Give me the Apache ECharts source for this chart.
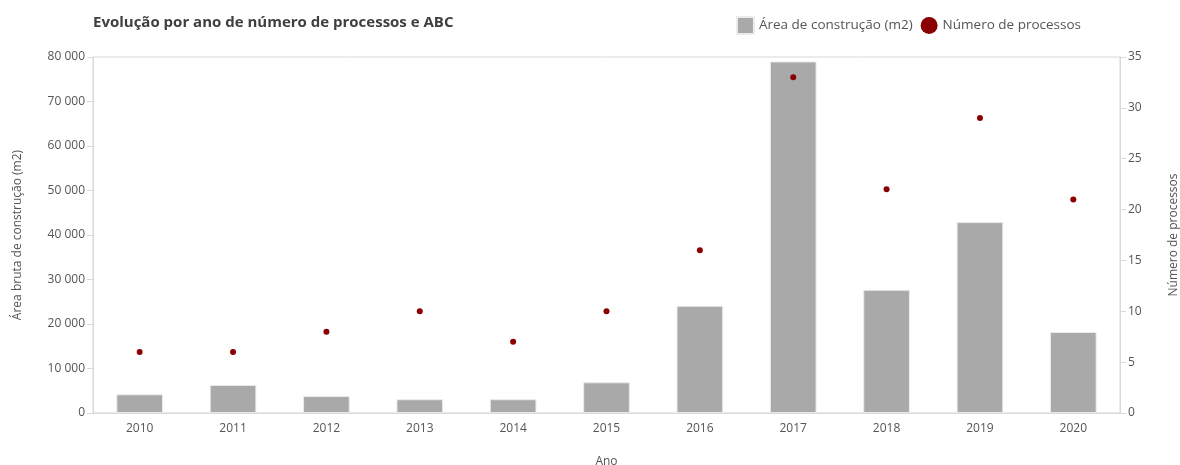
<!DOCTYPE html>
<html><head><meta charset="utf-8">
<script src="https://cdn.jsdelivr.net/npm/echarts@6/dist/echarts.min.js"></script>
<style>html,body{margin:0;padding:0;background:#fff}#c{width:1180px;height:465px}</style>
</head><body><div id="c"></div>
<script>
const years = ['2010','2011','2012','2013','2014','2015','2016','2017','2018','2019','2020'];
const area = [4200, 6300, 3800, 3100, 3100, 6900, 24100, 79000, 27700, 42900, 18200];
const processos = [6, 6, 8, 10, 7, 10, 16, 33, 22, 29, 21];
const titleText = 'Evolução por ano de número de processos e ABC';
const areaName = 'Área de construção (m2)';
const procName = 'Número de processos';

const font = '"Open Sans", "Noto Sans", sans-serif';
const chart = echarts.init(document.getElementById('c'));
chart.setOption({
  animation: false,
  textStyle: { fontFamily: font },
  title: { text: titleText, left: 88, top: 10,
    textStyle: { fontFamily: font, fontSize: 15, fontWeight: 'bold', color: '#3f3f3f' } },
  legend: { right: 94, top: 11, itemGap: 8, itemWidth: 17, itemHeight: 17,
    textStyle: { fontFamily: font, fontSize: 13.5, color: '#555' },
    data: [{ name: areaName, icon: 'rect' }, { name: procName, icon: 'circle' }] },
  grid: { left: 93, right: 60, top: 57, bottom: 52, outerBoundsMode: 'none', containLabel: false,
    show: true, borderColor: '#d9d9d9', borderWidth: 1 },
  xAxis: { type: 'category', data: years, name: 'Ano', nameLocation: 'middle', nameGap: 43,
    nameTextStyle: { color: '#555', fontSize: 12 },
    axisLine: { lineStyle: { color: '#d9d9d9' } }, axisTick: { show: false },
    axisLabel: { color: '#555', fontSize: 12, margin: 10 } },
  yAxis: [
    { type: 'value', min: 0, max: 80000, interval: 10000, name: 'Área bruta de construção (m2)',
      nameLocation: 'middle', nameGap: 69, nameRotate: 90,
      nameTextStyle: { color: '#555', fontSize: 12 },
      axisLine: { show: true, lineStyle: { color: '#d9d9d9' } },
      axisTick: { show: true, length: 6, lineStyle: { color: '#d9d9d9' } },
      splitLine: { show: false },
      axisLabel: { color: '#555', fontSize: 12, margin: 8,
        formatter: v => String(v).replace(/\B(?=(\d{3})+(?!\d))/g, ' ') } },
    { type: 'value', min: 0, max: 35, interval: 5, name: procName, position: 'right',
      nameLocation: 'middle', nameGap: 48, nameRotate: 90,
      nameTextStyle: { color: '#555', fontSize: 12 },
      axisLine: { show: true, lineStyle: { color: '#d9d9d9' } },
      axisTick: { show: true, length: 6, lineStyle: { color: '#d9d9d9' } },
      splitLine: { show: false },
      axisLabel: { color: '#555', fontSize: 12, margin: 8 } }
  ],
  series: [
    { name: areaName, type: 'bar', data: area, barWidth: '50%',
      itemStyle: { color: '#a9a9a9', borderColor: '#ececec', borderWidth: 1 } },
    { name: procName, type: 'scatter', yAxisIndex: 1, data: processos, symbolSize: 6,
      itemStyle: { color: '#8b0000', opacity: 1 } }
  ]
});
</script></body></html>
